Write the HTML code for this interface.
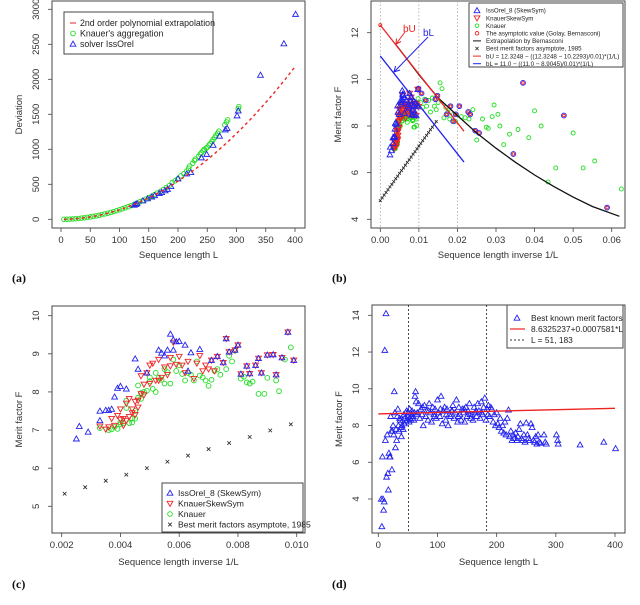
<!DOCTYPE html>
<html><head><meta charset="utf-8"><style>
html,body{margin:0;padding:0;background:#fff}
svg{display:block;font-family:"Liberation Sans",sans-serif}
</style></head><body>
<svg id="fig" width="640" height="605" viewBox="0 0 640 605" xmlns="http://www.w3.org/2000/svg"></svg>
<script>
// ===== Panel (a) data =====
const aGreen = [[5,0.3],[10,1.4],[15,3],[20,5],[25,8],[30,12],[35,17],[40,22],[45,28],[50,34],[55,41],[60,49],[65,57],[70,67],[75,77],[80,87],[85,98],[90,110],[95,123],[100,136],[105,150],[110,165],[115,180],[120,196],[125,213],[130,230],[135,250],[140,268],[145,288],[150,310],[155,330],[160,352],[165,375],[170,398],[175,425],[180,455],[185,480],[190,525],[195,550],[200,580],[205,620],[210,650],[215,690],[218,730],[220,760],[225,800],[228,840],[230,860],[235,900],[238,930],[240,950],[243,980],[245,1000],[248,1015],[250,1030],[253,1060],[255,1080],[258,1110],[260,1140],[263,1170],[265,1200],[268,1230],[270,1260],[280,1350],[283,1390],[285,1420],[303,1580],[304,1610]];
const aBlue = [[125,205],[128,215],[130,225],[140,265],[148,295],[155,320],[160,340],[168,370],[172,385],[178,410],[182,430],[188,470],[200,580],[215,650],[222,670],[240,880],[249,930],[260,1060],[271,1190],[281,1280],[284,1300],[301,1480],[303,1550],[341,2060],[381,2510],[401,2930]];
const aPoly = [0,0,0.01362];
const aPolyRange = [5,400];
const aXTicks = [0,50,100,150,200,250,300,350,400];
const aYTicks = [0,500,1000,1500,2000,2500,3000];

// ===== Panels (b)/(c) shared data: x = 1/L =====
const cBlue = [[0.0025,6.77],[0.0026,7.1],[0.0029,6.95],[0.0033,7.25],[0.0033,7.5],[0.0035,7.52],[0.0036,7.52],[0.0037,7.55],[0.0038,7.87],[0.0039,8.1],[0.0040,8.15],[0.0042,8.08],[0.0045,8.87],[0.0046,8.6],[0.0049,8.5],[0.0053,9.1],[0.0054,9.02],[0.0055,8.95],[0.0056,9.1],[0.0057,9.52],[0.0058,9.1],[0.0058,9.37],[0.0059,9.32],[0.0060,9.33],[0.0062,9.23],[0.0063,8.55],[0.0064,9.03],[0.0067,9.12],[0.0071,8.83],[0.0073,8.93],[0.0075,8.77],[0.0076,9.4],[0.0077,9.05],[0.0079,9.1],[0.0080,9.23],[0.0081,8.47],[0.0083,8.68],[0.0084,8.48],[0.0086,8.7],[0.0087,8.88],[0.0088,8.5],[0.0090,8.97],[0.0092,8.98],[0.0093,8.45],[0.0095,8.9],[0.0097,9.57],[0.0099,8.83]];
const cRed = [[0.0033,7.1],[0.0035,7.02],[0.0036,7.08],[0.0037,7.3],[0.0038,7.12],[0.0039,7.38],[0.0040,7.28],[0.0040,7.55],[0.0041,7.12],[0.0041,7.3],[0.0042,7.25],[0.0042,7.7],[0.0043,7.82],[0.0043,7.35],[0.0044,7.45],[0.0044,7.55],[0.0045,7.4],[0.0045,7.75],[0.0046,7.6],[0.0046,7.78],[0.0047,7.95],[0.0047,8.42],[0.0048,8.2],[0.0048,7.92],[0.0049,8.5],[0.0050,8.22],[0.0050,8.7],[0.0051,8.75],[0.0052,8.3],[0.0053,8.3],[0.0053,8.85],[0.0054,8.38],[0.0055,8.65],[0.0056,8.45],[0.0057,8.68],[0.0057,8.9],[0.0058,9.3],[0.0059,8.72],[0.0060,8.93],[0.0061,8.7],[0.0062,8.5],[0.0063,8.8],[0.0065,8.35],[0.0066,8.75],[0.0067,8.95],[0.0068,8.55],[0.0069,8.7],[0.0070,8.6],[0.0072,8.55],[0.0071,8.83],[0.0073,8.93],[0.0075,8.77],[0.0076,9.4],[0.0077,9.05],[0.0079,9.1],[0.0080,9.23],[0.0081,8.47],[0.0083,8.68],[0.0084,8.48],[0.0086,8.7],[0.0087,8.88],[0.0088,8.5],[0.0090,8.97],[0.0092,8.98],[0.0093,8.45],[0.0095,8.9],[0.0097,9.57],[0.0099,8.83]];
const cGreen = [[0.0033,7.05],[0.0036,7.0],[0.0037,7.02],[0.0038,7.08],[0.0039,7.03],[0.0040,7.15],[0.0040,7.2],[0.0041,7.18],[0.0042,7.77],[0.0042,7.58],[0.0043,7.18],[0.0044,7.2],[0.0044,7.3],[0.0045,7.3],[0.0045,7.5],[0.0046,7.85],[0.0046,8.17],[0.0047,7.97],[0.0047,7.82],[0.0048,8.0],[0.0049,8.03],[0.0050,8.28],[0.0050,8.38],[0.0051,8.08],[0.0052,8.0],[0.0052,8.5],[0.0053,8.37],[0.0054,8.32],[0.0055,8.22],[0.0055,8.6],[0.0056,8.52],[0.0057,8.22],[0.0058,8.85],[0.0059,8.55],[0.0060,8.7],[0.0061,8.47],[0.0062,8.3],[0.0063,8.5],[0.0064,8.45],[0.0065,8.3],[0.0066,8.8],[0.0067,8.43],[0.0068,8.38],[0.0069,8.3],[0.0070,8.16],[0.0071,8.32],[0.0072,8.55],[0.0073,8.6],[0.0074,8.45],[0.0076,8.6],[0.0077,8.95],[0.0078,8.8],[0.0079,9.08],[0.0081,8.35],[0.0082,8.4],[0.0083,8.25],[0.0084,8.22],[0.0085,8.27],[0.0087,7.95],[0.0089,7.95],[0.0090,8.37],[0.0093,8.3],[0.0094,8.02],[0.0096,8.85],[0.0098,9.17]];
const cBest = [[0.0021,5.33],[0.0028,5.5],[0.0035,5.67],[0.0042,5.83],[0.0049,6.0],[0.0056,6.17],[0.0063,6.33],[0.0070,6.5],[0.0077,6.66],[0.0084,6.82],[0.0091,6.99],[0.0098,7.15]];
const cXTicks = [0.002,0.004,0.006,0.008,0.010];
const cYTicks = [5,6,7,8,9,10];

// ===== Panel (b) extra data =====
const bGreenExtra = [[0.0105,9.0],[0.011,8.8],[0.0115,9.15],[0.012,8.85],[0.0125,9.1],[0.013,8.6],[0.0135,9.2],[0.014,8.85],[0.0145,8.7],[0.015,9.0],[0.0155,9.85],[0.016,9.6],[0.0165,8.35],[0.017,8.8],[0.0175,8.6],[0.018,8.3],[0.019,8.5],[0.0195,8.2],[0.021,8.4],[0.022,8.35],[0.023,8.3],[0.024,8.7],[0.025,7.4],[0.0265,8.3],[0.0275,7.95],[0.028,7.9],[0.029,8.4],[0.0295,8.9],[0.0305,8.5],[0.031,8.0],[0.032,7.2],[0.0335,7.65],[0.0357,7.85],[0.0385,7.5],[0.04,8.65],[0.0417,8.0],[0.0435,5.6],[0.0455,6.2],[0.05,7.7],[0.0526,6.2],[0.0556,6.5],[0.0625,5.3]];
const bPurple = [[0.0099,9.6],[0.0107,9.4],[0.0118,9.1],[0.0143,9.15],[0.0148,9.3],[0.0172,8.5],[0.0182,8.85],[0.0189,8.2],[0.0196,8.5],[0.0205,8.85],[0.0228,8.6],[0.0233,8.5],[0.0246,7.8],[0.0256,7.7],[0.0345,6.8],[0.037,9.85],[0.0476,8.45],[0.0588,4.5]];
const bBest = [[0,4.8],[0.0005,4.92],[0.001,5.04],[0.0015,5.15],[0.002,5.27],[0.0025,5.39],[0.003,5.5],[0.0035,5.62],[0.004,5.74],[0.0045,5.85],[0.005,5.97],[0.0055,6.09],[0.006,6.2],[0.0065,6.32],[0.007,6.44],[0.0075,6.55],[0.008,6.67],[0.0085,6.79],[0.009,6.9],[0.0095,7.02],[0.01,7.14],[0.0105,7.25],[0.011,7.37],[0.0115,7.49],[0.012,7.6],[0.0125,7.72],[0.013,7.84],[0.0135,7.95],[0.014,8.07],[0.0145,8.19]];
const bBernasconi = [[0.004,11.5],[0.007,10.85],[0.01,10.2],[0.015,9.2],[0.02,8.45],[0.025,7.7],[0.03,7.05],[0.035,6.45],[0.04,5.9],[0.045,5.4],[0.05,4.95],[0.055,4.55],[0.062,4.13]];
const bUcoef = [12.3248,10.2293];
const bLcoef = [11.0,8.9045];
const bLineRange = [0,0.0217];
const bXTicks = [0,0.01,0.02,0.03,0.04,0.05,0.06];
const bXLabels = ["0.00","0.01","0.02","0.03","0.04","0.05","0.06"];
const bYTicks = [4,6,8,10,12];

// ===== Panel (d) data =====
const dPoints = [[5,4.0],[6,2.5],[7,6.3],[8,4.0],[9,3.4],[10,3.85],[11,12.1],[12,7.2],[13,14.1],[14,5.2],[15,7.5],[16,5.4],[17,4.5],[18,6.5],[19,6.3],[20,6.3],[21,8.5],[22,7.7],[23,5.6],[24,7.7],[25,8.0],[26,7.5],[27,9.85],[28,8.7],[29,6.8],[30,7.8],[31,7.2],[32,8.5],[33,8.9],[34,8.0],[35,7.7],[36,8.4],[37,8.3],[38,7.9],[39,7.4],[40,8.0],[41,8.3],[42,7.8],[43,8.6],[44,8.1],[45,8.4],[46,8.7],[47,8.2],[48,8.8],[49,8.3],[50,8.5],[51,8.7],[52,8.2],[53,8.9],[54,8.4],[55,8.3],[56,8.6],[57,8.8],[58,8.4],[59,8.5],[60,8.3],[61,8.7],[62,9.6],[63,9.85],[64,9.3],[66,8.7],[68,9.2],[70,8.4],[72,8.9],[74,8.6],[76,8.0],[78,9.1],[80,8.5],[82,8.8],[84,8.3],[86,9.2],[88,8.7],[90,8.2],[92,9.0],[94,8.6],[96,8.9],[98,8.4],[100,9.4],[102,8.7],[104,8.5],[106,9.6],[108,8.1],[110,8.8],[112,9.0],[114,8.3],[116,8.9],[118,8.0],[120,8.6],[122,8.5],[124,8.8],[126,9.1],[128,8.4],[130,8.7],[132,9.4],[134,8.2],[136,9.0],[138,8.6],[140,8.3],[142,8.9],[144,8.7],[146,8.2],[148,9.0],[150,8.5],[152,8.8],[154,9.2],[156,8.4],[158,8.6],[160,8.3],[162,9.0],[164,8.7],[166,8.5],[168,9.2],[170,8.8],[172,8.4],[174,9.3],[176,8.6],[178,9.0],[180,9.5],[182,8.3],[184,8.9],[186,9.1],[188,8.5],[190,9.0],[65,8.6],[75,9.0],[85,8.8],[95,8.5],[105,8.9],[115,8.6],[125,8.8],[135,8.5],[145,8.9],[155,8.6],[165,8.8],[175,8.7],[185,8.6],[192,8.9],[194,8.2],[196,8.6],[198,8.0],[200,8.7],[202,8.1],[204,7.9],[206,8.4],[208,7.7],[210,8.0],[212,7.6],[214,8.2],[216,7.5],[218,8.4],[220,8.85],[222,7.4],[224,7.7],[226,7.2],[228,7.5],[230,7.3],[232,7.6],[234,7.2],[236,7.4],[238,7.8],[240,8.1],[242,7.3],[244,7.2],[246,7.5],[248,7.1],[250,8.15],[252,7.5],[254,7.3],[256,7.2],[258,8.1],[260,7.9],[262,7.2],[264,7.1],[266,7.4],[268,7.0],[270,7.5],[272,7.1],[274,7.05],[280,7.5],[282,7.1],[284,7.0],[301,7.5],[303,7.2],[304,7.0],[341,6.95],[381,7.1],[401,6.75]];
const dTrend = [8.6325237,0.0007581];
const dTrendRange = [0,400];
const dVLines = [51,183];
const dXTicks = [0,100,200,300,400];
const dYTicks = [4,6,8,10,12,14];

const NS = "http://www.w3.org/2000/svg";
const svg = document.getElementById('fig');
function el(tag, attrs, parent, text){
  const e = document.createElementNS(NS, tag);
  for (const k in attrs) e.setAttribute(k, attrs[k]);
  if (text !== undefined) e.textContent = text;
  (parent || svg).appendChild(e);
  return e;
}
function scale(d0,d1,r0,r1){ return v => r0 + (v-d0)*(r1-r0)/(d1-d0); }

function tri(g,x,y,col){ const s=2.9; return el('path',{d:`M${x},${y-s} L${x+s},${y+s*0.75} L${x-s},${y+s*0.75} Z`,fill:'none',stroke:col,'stroke-width':0.9},g); }
function dtri(g,x,y,col){ const s=2.9; return el('path',{d:`M${x},${y+s} L${x+s},${y-s*0.75} L${x-s},${y-s*0.75} Z`,fill:'none',stroke:col,'stroke-width':0.9},g); }
function circ(g,x,y,col,r){ return el('circle',{cx:x,cy:y,r:r||2.3,fill:'none',stroke:col,'stroke-width':0.9},g); }
function cross(g,x,y,s){ s=s||1.8; return el('path',{d:`M${x-s},${y-s}L${x+s},${y+s}M${x-s},${y+s}L${x+s},${y-s}`,stroke:'#222','stroke-width':0.8},g); }

function axes(name, box, sx, sy, xt, yt, xl, xTitle, yTitle, xTitleY){
  const g = el('g',{});
  
  
  const [x0,y0,x1,y1] = box;
  const fr = el('rect',{x:x0,y:y0,width:x1-x0,height:y1-y0,fill:'none',stroke:'#444','stroke-width':1},g);
  
  
  xt.forEach((t,i)=>{
    const x = sx(t);
    el('line',{x1:x,y1:y1,x2:x,y2:y1+4,stroke:'#444','stroke-width':0.8},g);
    const tx = el('text',{x:x,y:y1+15,'font-size':9.5,'text-anchor':'middle',fill:'#333'},g,xl?xl[i]:String(t));
    
    
  });
  yt.forEach(t=>{
    const y = sy(t);
    el('line',{x1:x0,y1:y,x2:x0-4,y2:y,stroke:'#444','stroke-width':0.8},g);
    const lx = x0-13;
    const tx = el('text',{x:lx,y:y,'font-size':9.5,'text-anchor':'middle',fill:'#333',transform:`rotate(-90 ${lx} ${y})`},g,String(t));
    
    
  });
  const xtEl = el('text',{x:(x0+x1)/2,y:xTitleY,'font-size':9.5,'text-anchor':'middle',fill:'#333'},g,xTitle);
  
  
  const ym = (y0+y1)/2;
  const ytEl = el('text',{x:x0-30,y:ym,'font-size':9.5,'text-anchor':'middle',fill:'#333',transform:`rotate(-90 ${x0-30} ${ym})`},g,yTitle);
  
  
}
function legendBox(name,x,y,w,h){
  const g = el('g',{});
  
  
  el('rect',{x:x,y:y,width:w,height:h,fill:'#fff',stroke:'#444','stroke-width':1},g);
  return g;
}
function legText(g,x,y,fs,t){
  const e = el('text',{x:x,y:y+fs*0.35,'font-size':fs,fill:'#222'},g,t);
  
  
  return e;
}
function panelLabel(x,y,t){
  const e = el('text',{x:x,y:y,'font-size':12,'font-weight':'bold','font-family':'"Liberation Serif",serif',fill:'#111'},svg,t);
  
  
}

// ---------- Panel (a) ----------
(function(){
  const box=[52,1,305,228];
  const sx=scale(0,400,61,295), sy=scale(0,3000,219.3,9.3);
  axes('panel-a',box,sx,sy,aXTicks,aYTicks,null,'Sequence length L','Deviation',258);
  const g=el('g',{});
  
  
  aGreen.forEach(p=>{ const c=circ(g,sx(p[0]),sy(p[1]),'#22dd22');
     });
  aBlue.forEach(p=>{ const t=tri(g,sx(p[0]),sy(p[1]),'#2222ee');
     });
  let d='';
  for(let L=aPolyRange[0]; L<=aPolyRange[1]; L+=2){ const v=aPoly[0]+aPoly[1]*L+aPoly[2]*L*L; d+=(d?'L':'M')+sx(L).toFixed(1)+','+sy(v).toFixed(1); }
  const pl=el('path',{d:d,fill:'none',stroke:'#ee2222','stroke-width':1.4,'stroke-dasharray':'3,3'},g);
  
  const lg=legendBox('panel-a-legend',64,12,149,42);
  el('line',{x1:70,y1:23,x2:76,y2:23,stroke:'#ee2222','stroke-width':1},lg);
  legText(lg,80,23,8.8,'2nd order polynomial extrapolation');
  circ(lg,73,33.5,'#22dd22');
  legText(lg,80,33.5,8.8,"Knauer's aggregation");
  tri(lg,73,44,'#2222ee');
  legText(lg,80,44,8.8,'solver IssOrel');
})();

// ---------- Panel (b) ----------
(function(){
  const box=[371,1,625,228];
  const sx=scale(0,0.06,380.3,611.7), sy=scale(12,4,32.7,219.3);
  axes('panel-b',box,sx,sy,bXTicks,bYTicks,bXLabels,'Sequence length inverse 1/L','Merit factor F',258);
  const g=el('g',{});
  
  
  [0,0.01,0.02].forEach(v=>{ const l=el('line',{x1:sx(v),y1:1,x2:sx(v),y2:228,stroke:'#999','stroke-width':0.7,'stroke-dasharray':'1.5,2'},g);
     });
  const clip=el('clipPath',{id:'clipb'},g); el('rect',{x:371,y:1,width:254,height:227},clip);
  const gc=el('g',{'clip-path':'url(#clipb)'},g);
  cGreen.concat(bGreenExtra).forEach(p=>{ const c=circ(gc,sx(p[0]),sy(p[1]),'#22dd22',2);
     });
  cRed.forEach(p=>{ const t=dtri(gc,sx(p[0]),sy(p[1]),'#ee2222');
     });
  cBlue.forEach(p=>{ const t=tri(gc,sx(p[0]),sy(p[1]),'#2222ee');
     });
  bPurple.forEach(p=>{ circ(gc,sx(p[0]),sy(p[1]),'#2222ee',2.4); const c=circ(gc,sx(p[0]),sy(p[1]),'#ee2222',1.3);
     });
  bBest.forEach(p=>{ const c=cross(gc,sx(p[0]),sy(p[1]),1.4);
     });
  let d=''; bBernasconi.forEach((p,i)=>{ d+=(i?'L':'M')+sx(p[0]).toFixed(1)+','+sy(p[1]).toFixed(1); });
  const bl=el('path',{d:d,fill:'none',stroke:'#111','stroke-width':1.3},gc);
  
  const fU=x=>bUcoef[0]-(bUcoef[0]-bUcoef[1])/0.01*x, fL=x=>bLcoef[0]-(bLcoef[0]-bLcoef[1])/0.01*x;
  const ul=el('line',{x1:sx(bLineRange[0]),y1:sy(fU(bLineRange[0])),x2:sx(bLineRange[1]),y2:sy(fU(bLineRange[1])),stroke:'#ee2222','stroke-width':1.3},gc);
  
  const ll=el('line',{x1:sx(bLineRange[0]),y1:sy(fL(bLineRange[0])),x2:sx(bLineRange[1]),y2:sy(fL(bLineRange[1])),stroke:'#2222ee','stroke-width':1.3},gc);
  
  circ(gc,sx(0),sy(bUcoef[0]),'#ee2222',1.5);
  const a1=el('path',{d:'M405,32 L396,44 M396,44 L396.5,38.5 M396,44 L401,41.5',stroke:'#ee2222','stroke-width':1,fill:'none'},g);
  
  const t1=el('text',{x:403,y:32,'font-size':10,fill:'#ee2222'},g,'bU');
  
  const a2=el('path',{d:'M428,37 L394,72 M394,72 L395.5,66 M394,72 L400,70',stroke:'#2222ee','stroke-width':1,fill:'none'},g);
  
  const t2=el('text',{x:423,y:36,'font-size':10,fill:'#2222ee'},g,'bL');
  
  const lg=legendBox('panel-b-legend',469,3,154,64);
  const ys=[10,17.6,25.2,32.8,40.4,48,55.6,63.2].map(v=>v+0.5);
  const fs=6.2;
  tri(lg,477,ys[0],'#2222ee'); legText(lg,486,ys[0],fs,'IssOrel_8 (SkewSym)');
  dtri(lg,477,ys[1],'#ee2222'); legText(lg,486,ys[1],fs,'KnauerSkewSym');
  circ(lg,477,ys[2],'#22dd22',1.8); legText(lg,486,ys[2],fs,'Knauer');
  circ(lg,477,ys[3],'#ee2222',1.8); legText(lg,486,ys[3],fs,'The asymptotic value (Golay, Bernasconi)');
  el('line',{x1:473,y1:ys[4],x2:481,y2:ys[4],stroke:'#111','stroke-width':1},lg); legText(lg,486,ys[4],fs,'Extrapolation by Bernasconi');
  cross(lg,477,ys[5],1.6); legText(lg,486,ys[5],fs,'Best merit factors asymptote, 1985');
  el('line',{x1:473,y1:ys[6],x2:481,y2:ys[6],stroke:'#ee2222','stroke-width':1},lg); legText(lg,486,ys[6],fs,'bU = 12.3248 − ((12.3248 − 10.2293)/0.01)*(1/L)');
  el('line',{x1:473,y1:ys[7],x2:481,y2:ys[7],stroke:'#2222ee','stroke-width':1},lg); legText(lg,486,ys[7],fs,'bL = 11.0 − ((11.0 − 8.9045)/0.01)*(1/L)');
})();

// ---------- Panel (c) ----------
(function(){
  const box=[52,306,305,533];
  const sx=scale(0.002,0.010,61.7,296.7), sy=scale(10,5,315.7,506.3);
  axes('panel-c',box,sx,sy,cXTicks,cYTicks,["0.002","0.004","0.006","0.008","0.010"],'Sequence length inverse 1/L','Merit factor F',565);
  const g=el('g',{});
  
  
  cGreen.forEach(p=>{ const c=circ(g,sx(p[0]),sy(p[1]),'#22dd22',2.4);
     });
  cRed.forEach(p=>{ const t=dtri(g,sx(p[0]),sy(p[1]),'#ee2222');
     });
  cBlue.forEach(p=>{ const t=tri(g,sx(p[0]),sy(p[1]),'#2222ee');
     });
  cBest.forEach(p=>{ const c=cross(g,sx(p[0]),sy(p[1]));
     });
  const lg=legendBox('panel-c-legend',162,483,141,49);
  const fs=8.6;
  tri(lg,170,493,'#2222ee'); legText(lg,178,493,fs,'IssOrel_8 (SkewSym)');
  dtri(lg,170,503.5,'#ee2222'); legText(lg,178,503.5,fs,'KnauerSkewSym');
  circ(lg,170,514,'#22dd22'); legText(lg,178,514,fs,'Knauer');
  cross(lg,170,524.5); legText(lg,178,524.5,fs,'Best merit factors asymptote, 1985');
})();

// ---------- Panel (d) ----------
(function(){
  const box=[372,305,625,533];
  const sx=scale(0,400,378.3,615), sy=scale(14,4,315.3,499);
  axes('panel-d',box,sx,sy,dXTicks,dYTicks,null,'Sequence length L','Merit factor F',565);
  const g=el('g',{});
  
  
  dVLines.forEach(v=>{ const l=el('line',{x1:sx(v),y1:305,x2:sx(v),y2:533,stroke:'#333','stroke-width':0.9,'stroke-dasharray':'2,2'},g);
     });
  dPoints.forEach(p=>{ const t=tri(g,sx(p[0]),sy(p[1]),'#2222ee');
     });
  const tl=el('line',{x1:sx(dTrendRange[0]),y1:sy(dTrend[0]+dTrend[1]*dTrendRange[0]),x2:sx(dTrendRange[1]),y2:sy(dTrend[0]+dTrend[1]*dTrendRange[1]),stroke:'#ee2222','stroke-width':1.4},g);
  
  const lg=legendBox('panel-d-legend',507,305,116,43);
  const fs=8.4;
  tri(lg,517,318,'#2222ee'); legText(lg,531,318,fs,'Best known merit factors');
  el('line',{x1:510,y1:329,x2:525,y2:329,stroke:'#ee2222','stroke-width':1.2},lg); legText(lg,531,329,fs,'8.6325237+0.0007581*L');
  el('line',{x1:510,y1:340,x2:525,y2:340,stroke:'#333','stroke-width':0.9,'stroke-dasharray':'2,2'},lg); legText(lg,531,340,fs,'L = 51, 183');
})();

panelLabel(12,282,'(a)');
panelLabel(332,282,'(b)');
panelLabel(12,588,'(c)');
panelLabel(332,588,'(d)');
const cap=el('text',{x:0,y:613,'font-size':11,'font-family':'"Liberation Serif",serif',fill:'#222'},svg,'Figure 1: Asymptotic behavior of the merit factor and deviation for sequence lengths and extrapolations');


</script>
</body></html>
